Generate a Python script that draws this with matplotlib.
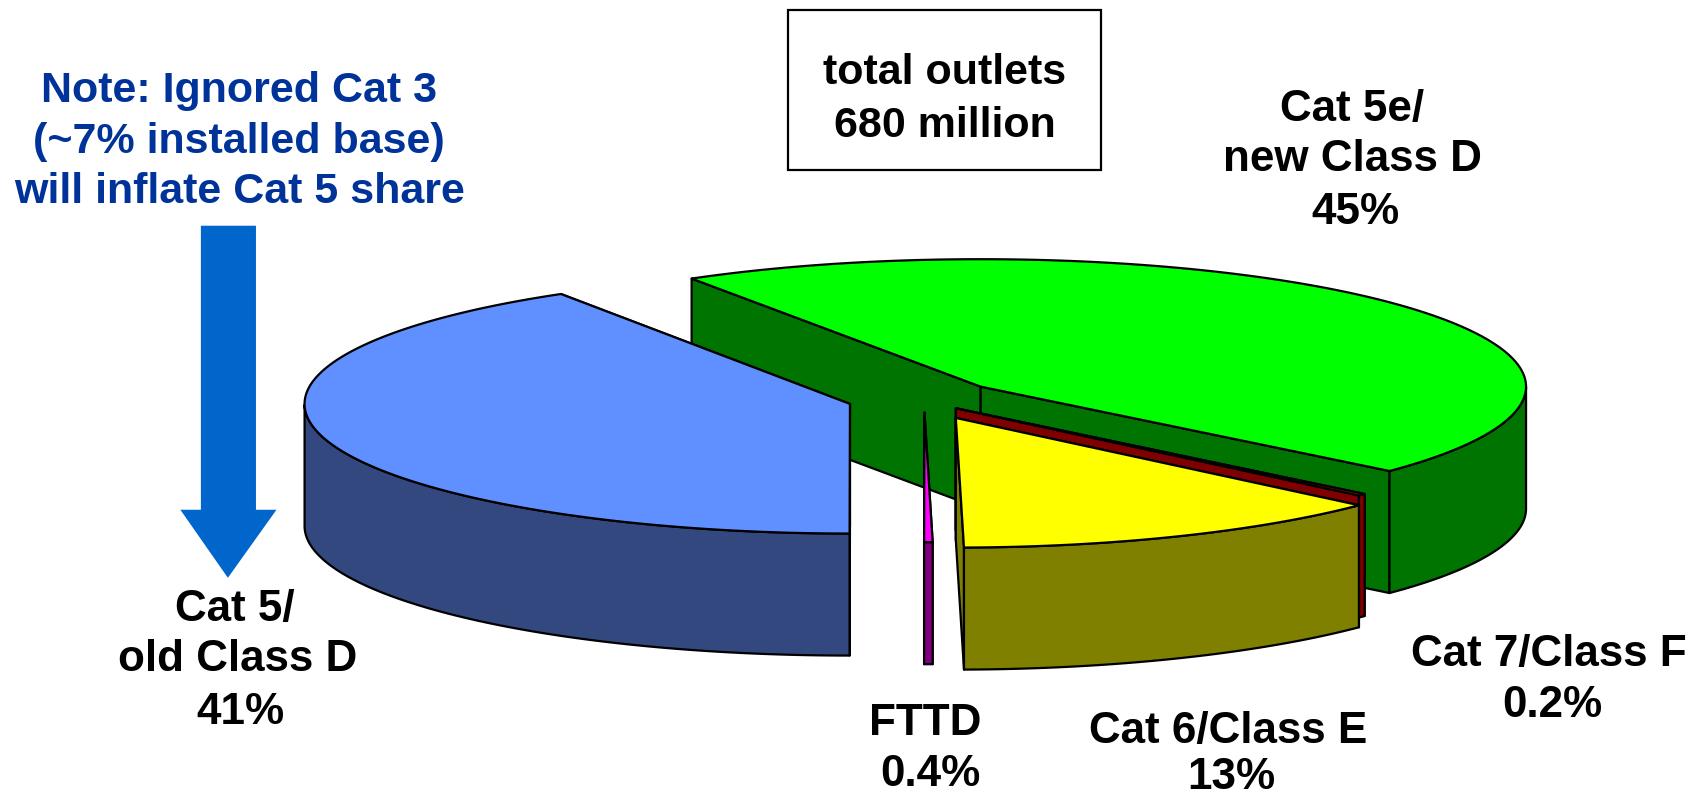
import numpy as np
import matplotlib
matplotlib.use('Agg')
import matplotlib.pyplot as plt
from matplotlib.patches import Polygon, Rectangle

plt.rcParams['font.family'] = ['Liberation Sans', 'DejaVu Sans']

# slices go clockwise from the back left, shares as measured on the drawn slices
categories = ['Cat 5e/new Class D', 'Cat 7/Class F', 'Cat 6/Class E', 'FTTD', 'Cat 5/old Class D']
slice_shares = [45.4, 0.25, 13.0, 0.25, 41.1]

# the printed labels
label_lines = [
    ['Cat 5e/', 'new Class D', '45%'],
    ['Cat 7/Class F', '0.2%'],
    ['Cat 6/Class E', '13%'],
    ['FTTD', '0.4%'],
    ['Cat 5/', 'old Class D', '41%'],
]
note_lines = ['Note: Ignored Cat 3', '(~7% installed base)', 'will inflate Cat 5 share']
total_lines = ['total outlets', '680 million']

# styling
top_colors = ['#00FF00', '#FF0000', '#FFFF00', '#FF00FF', '#6090FF']
side_colors = ['#007400', '#800000', '#808000', '#800080', '#33487F']
centers = [(908, 358), (885, 378), (885, 387), (856, 382), (787, 374)]
radius_y = [118, 120, 120, 120, 120]
label_xy = [
    [(1252, 112), (1252, 158), (1255, 207)],
    [(1434, 617), (1437, 664)],
    [(1137, 688), (1140, 731)],
    [(857, 681), (861, 728)],
    [(217, 575), (220, 621), (223, 670)],
]
note_xy = [(221, 94), (221, 142), (222, 188)]
total_xy = [(875, 78), (875, 127)]

RX, DEPTH = 505, 113
START = 122
BLACK_LW = 1.6
FONT = 31
LABEL_FONT = 31.7
W, H = 1693 / 1.08, 796 / 1.08

fig = plt.figure(figsize=(16.93, 7.96), dpi=100)
ax = fig.add_axes([0, 0, 1, 1])
ax.set_xlim(0, W)
ax.set_ylim(H, 0)
ax.axis('off')


def rim(cx, cy, ry, a):
    a = np.radians(a)
    return np.column_stack([cx + RX * np.cos(a), cy - ry * np.sin(a)])


def face(pts, color, z):
    ax.add_patch(Polygon(pts, closed=True, facecolor=color, edgecolor='black',
                         linewidth=BLACK_LW, joinstyle='round', zorder=z))


angle = START
for i, share in enumerate(slice_shares):
    a0 = angle
    a1 = angle - share * 3.6
    angle = a1
    cx, cy = centers[i]
    z = 10 + i * 3
    arc = np.linspace(a0, a1, max(int(abs(a1 - a0) * 2), 6))
    edge = rim(cx, cy, radius_y[i], arc)
    apex = np.array([[cx, cy]])
    down = np.array([0, DEPTH])

    # the two cut faces
    for p in (edge[:1], edge[-1:]):
        quad = np.vstack([apex, p, p + down, apex + down])
        face(quad, side_colors[i], z)

    # outer wall, only the front half of the rim shows
    front = (np.sin(np.radians(arc)) <= 0)
    if front.sum() > 1:
        fr = edge[front]
        face(np.vstack([fr, (fr + down)[::-1]]), side_colors[i], z + 1)

    # top
    face(np.vstack([apex, edge]), top_colors[i], z + 2)

# total box
ax.add_patch(Rectangle((730, 9), 289, 148, facecolor='white', edgecolor='black',
                       linewidth=1.6, zorder=30))
for t, (x, y) in zip(total_lines, total_xy):
    ax.text(x, y, t, fontsize=FONT, fontweight='bold', color='black',
            ha='center', va='baseline', zorder=31)

# note + arrow
for t, (x, y) in zip(note_lines, note_xy):
    ax.text(x, y, t, fontsize=FONT, fontweight='bold', color='#003399',
            ha='center', va='baseline', zorder=31)
ax.add_patch(Polygon([(186, 209), (237, 209), (237, 472), (256, 472), (211, 535),
                      (167, 472), (186, 472)], closed=True, facecolor='#0066CC',
                     edgecolor='none', zorder=31))

# slice labels
for lines, pos in zip(label_lines, label_xy):
    for t, (x, y) in zip(lines, pos):
        ax.text(x, y, t, fontsize=LABEL_FONT, fontweight='bold', color='black',
                ha='center', va='baseline', zorder=31)

fig.savefig('out.png', dpi=100, facecolor='white')
